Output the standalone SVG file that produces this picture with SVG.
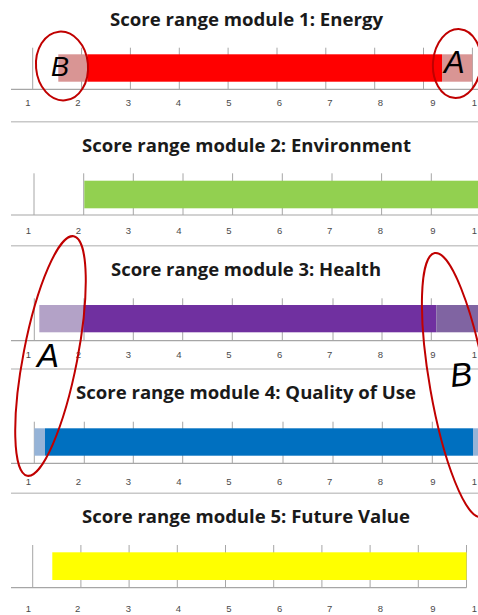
<svg xmlns="http://www.w3.org/2000/svg" width="478" height="615" viewBox="0 0 478 615">
<style>
.title{font-family:"Open Sans","Liberation Sans",sans-serif;font-weight:bold;font-size:17px;fill:#1a1a1a}
.lbl{font-family:"Liberation Sans",Arial,sans-serif;font-size:9.5px;fill:#4a4a4a;text-anchor:middle}
.tick{stroke:#a6a6a6;stroke-width:1}
.axis{stroke:#a6a6a6;stroke-width:1.2}
.sep{stroke:#c8c8c8;stroke-width:1.5}
.ring{fill:none;stroke:#c00000;stroke-width:2}
.hand{font-family:"Liberation Sans",Arial,sans-serif;font-style:italic;fill:#000}
</style>
<rect width="478" height="615" fill="#fff"/>

<g id="module1">
  <text class="title" x="110" y="26" textLength="273" lengthAdjust="spacingAndGlyphs">Score range module 1: Energy</text>
  <g class="tick">
    <line x1="32.7" y1="47.7" x2="32.7" y2="89.3"/><line x1="81.6" y1="47.7" x2="81.6" y2="89.3"/>
    <line x1="130.4" y1="47.7" x2="130.4" y2="89.3"/><line x1="179.3" y1="47.7" x2="179.3" y2="89.3"/>
    <line x1="228.1" y1="47.7" x2="228.1" y2="89.3"/><line x1="277" y1="47.7" x2="277" y2="89.3"/>
    <line x1="325.8" y1="47.7" x2="325.8" y2="89.3"/><line x1="374.7" y1="47.7" x2="374.7" y2="89.3"/>
    <line x1="423.5" y1="47.7" x2="423.5" y2="89.3"/><line x1="472.4" y1="47.7" x2="472.4" y2="89.3"/>
  </g>
  <rect x="58.3" y="54.3" width="29" height="27.4" fill="#d99594"/>
  <rect x="87.3" y="54.3" width="354.7" height="27.4" fill="#ff0000"/>
  <rect x="442" y="54.3" width="30.4" height="27.4" fill="#d99594"/>
  <line class="axis" x1="11" y1="89.3" x2="478" y2="89.3"/>
  <g class="lbl">
    <text x="28" y="106">1</text><text x="78" y="106">2</text><text x="128.5" y="106">3</text>
    <text x="178.5" y="106">4</text><text x="229" y="106">5</text><text x="279.5" y="106">6</text>
    <text x="330" y="106">7</text><text x="380.5" y="106">8</text><text x="433" y="106">9</text>
    <text x="474.5" y="106">1</text>
  </g>
  <line class="sep" x1="11" y1="121.7" x2="478" y2="121.7"/>
</g>

<g id="module2">
  <text class="title" x="82" y="151.5" textLength="329" lengthAdjust="spacingAndGlyphs">Score range module 2: Environment</text>
  <g class="tick">
    <line x1="34" y1="173.3" x2="34" y2="215"/><line x1="83.7" y1="173.3" x2="83.7" y2="215"/>
    <line x1="133.3" y1="173.3" x2="133.3" y2="215"/><line x1="183" y1="173.3" x2="183" y2="215"/>
    <line x1="232.6" y1="173.3" x2="232.6" y2="215"/><line x1="282.3" y1="173.3" x2="282.3" y2="215"/>
    <line x1="332" y1="173.3" x2="332" y2="215"/><line x1="381.6" y1="173.3" x2="381.6" y2="215"/>
    <line x1="431.3" y1="173.3" x2="431.3" y2="215"/>
  </g>
  <rect x="84.3" y="180.7" width="394" height="27.6" fill="#92d050"/>
  <line class="axis" x1="11" y1="215" x2="478" y2="215"/>
  <g class="lbl">
    <text x="28.3" y="234.3">1</text><text x="78.3" y="234.3">2</text><text x="128.3" y="234.3">3</text>
    <text x="179" y="234.3">4</text><text x="229" y="234.3">5</text><text x="279.7" y="234.3">6</text>
    <text x="329.7" y="234.3">7</text><text x="380.3" y="234.3">8</text><text x="433" y="234.3">9</text>
    <text x="474.5" y="234.3">1</text>
  </g>
  <line class="sep" x1="11" y1="245.7" x2="478" y2="245.7"/>
</g>

<g id="module3">
  <text class="title" x="111" y="276" textLength="270" lengthAdjust="spacingAndGlyphs">Score range module 3: Health</text>
  <g class="tick">
    <line x1="34.3" y1="298.3" x2="34.3" y2="340.7"/><line x1="84" y1="298.3" x2="84" y2="340.7"/>
    <line x1="133.3" y1="298.3" x2="133.3" y2="340.7"/><line x1="182.7" y1="298.3" x2="182.7" y2="340.7"/>
    <line x1="232.3" y1="298.3" x2="232.3" y2="340.7"/><line x1="282.3" y1="298.3" x2="282.3" y2="340.7"/>
    <line x1="333" y1="298.3" x2="333" y2="340.7"/><line x1="382" y1="298.3" x2="382" y2="340.7"/>
    <line x1="431.3" y1="298.3" x2="431.3" y2="340.7"/>
  </g>
  <rect x="39.3" y="305" width="44" height="27.3" fill="#b3a2c7"/>
  <rect x="83.3" y="305" width="353" height="27.3" fill="#7030a0"/>
  <rect x="436.3" y="305" width="42" height="27.3" fill="#8064a2"/>
  <line class="axis" x1="11" y1="340.7" x2="478" y2="340.7"/>
  <g class="lbl">
    <text x="28.3" y="358.3">1</text><text x="78.3" y="358.3">2</text><text x="128.3" y="358.3">3</text>
    <text x="179" y="358.3">4</text><text x="229" y="358.3">5</text><text x="279.7" y="358.3">6</text>
    <text x="329.7" y="358.3">7</text><text x="380.3" y="358.3">8</text><text x="433" y="358.3">9</text>
    <text x="474.5" y="358.3">1</text>
  </g>
  <line class="sep" x1="11" y1="369" x2="478" y2="369"/>
</g>

<g id="module4">
  <text class="title" x="76" y="399" textLength="340" lengthAdjust="spacingAndGlyphs">Score range module 4: Quality of Use</text>
  <g class="tick">
    <line x1="34.3" y1="421.7" x2="34.3" y2="463.3"/><line x1="84.3" y1="421.7" x2="84.3" y2="463.3"/>
    <line x1="133.3" y1="421.7" x2="133.3" y2="463.3"/><line x1="182.7" y1="421.7" x2="182.7" y2="463.3"/>
    <line x1="232.3" y1="421.7" x2="232.3" y2="463.3"/><line x1="283" y1="421.7" x2="283" y2="463.3"/>
    <line x1="333" y1="421.7" x2="333" y2="463.3"/><line x1="382.3" y1="421.7" x2="382.3" y2="463.3"/>
    <line x1="432.3" y1="421.7" x2="432.3" y2="463.3"/>
  </g>
  <rect x="34.3" y="428.3" width="10.7" height="27.4" fill="#95b3d7"/>
  <rect x="45" y="428.3" width="428" height="27.4" fill="#0070c0"/>
  <rect x="473" y="428.3" width="5.3" height="27.4" fill="#95b3d7"/>
  <line class="axis" x1="11" y1="463.3" x2="478" y2="463.3"/>
  <g class="lbl">
    <text x="28.3" y="485">1</text><text x="78.3" y="485">2</text><text x="128.3" y="485">3</text>
    <text x="179" y="485">4</text><text x="229" y="485">5</text><text x="279.7" y="485">6</text>
    <text x="329.7" y="485">7</text><text x="380.3" y="485">8</text><text x="433" y="485">9</text>
    <text x="474.5" y="485">1</text>
  </g>
  <line class="sep" x1="11" y1="493.3" x2="478" y2="493.3"/>
</g>

<g id="module5">
  <text class="title" x="82" y="523.3" textLength="328" lengthAdjust="spacingAndGlyphs">Score range module 5: Future Value</text>
  <g class="tick">
    <line x1="32.7" y1="545" x2="32.7" y2="587.7"/><line x1="80.9" y1="545" x2="80.9" y2="587.7"/>
    <line x1="129.1" y1="545" x2="129.1" y2="587.7"/><line x1="177.3" y1="545" x2="177.3" y2="587.7"/>
    <line x1="225.5" y1="545" x2="225.5" y2="587.7"/><line x1="273.7" y1="545" x2="273.7" y2="587.7"/>
    <line x1="321.9" y1="545" x2="321.9" y2="587.7"/><line x1="370.1" y1="545" x2="370.1" y2="587.7"/>
    <line x1="418.3" y1="545" x2="418.3" y2="587.7"/><line x1="466.5" y1="545" x2="466.5" y2="587.7"/>
  </g>
  <rect x="52.3" y="552.3" width="414.2" height="27.7" fill="#ffff00"/>
  <line class="axis" x1="11" y1="587.7" x2="466.5" y2="587.7"/>
  <g class="lbl">
    <text x="28.3" y="611.7">1</text><text x="77.7" y="611.7">2</text><text x="128.3" y="611.7">3</text>
    <text x="178.3" y="611.7">4</text><text x="229" y="611.7">5</text><text x="279.7" y="611.7">6</text>
    <text x="329.7" y="611.7">7</text><text x="380.3" y="611.7">8</text><text x="433" y="611.7">9</text>
    <text x="474.5" y="611.7">1</text>
  </g>
</g>

<g id="annotations">
  <ellipse class="ring" cx="62" cy="66" rx="26" ry="34.5" transform="rotate(-5 62 66)"/>
  <text class="hand" x="51" y="76" font-size="27">B</text>
  <ellipse class="ring" cx="457" cy="63.5" rx="24" ry="34.5" transform="rotate(5 457 63.5)"/>
  <text class="hand" x="444" y="73.3" font-size="31">A</text>
  <ellipse class="ring" cx="50.5" cy="356" rx="27" ry="122" transform="rotate(11 50.5 356)"/>
  <text class="hand" x="37" y="367" font-size="33">A</text>
  <ellipse class="ring" cx="458" cy="385" rx="28" ry="134" transform="rotate(-10 458 385)"/>
  <text class="hand" x="450" y="386" font-size="33" font-style="normal" transform="rotate(-6 461 374)">B</text>
</g>
</svg>
